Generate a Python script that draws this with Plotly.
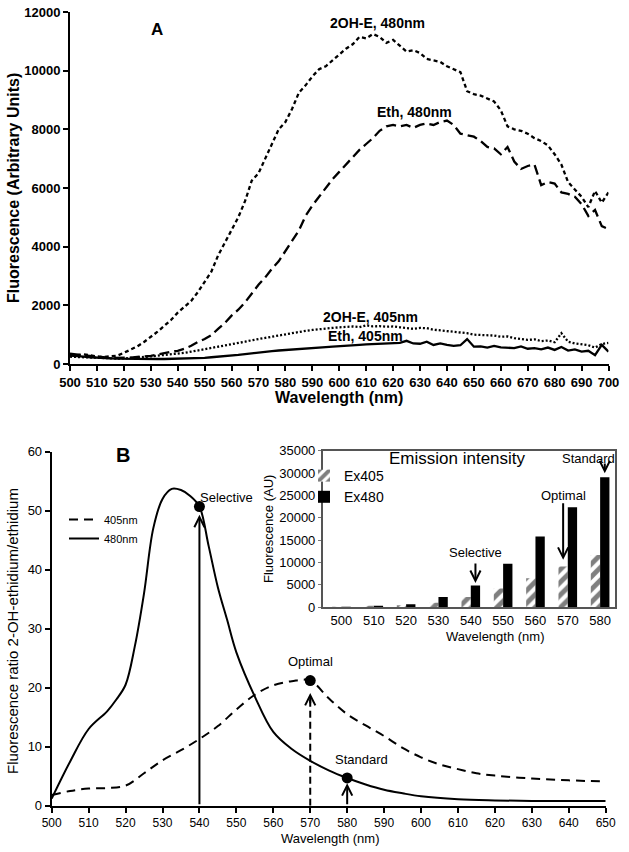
import plotly.graph_objects as go

W, H = 629, 852
FONT = "Liberation Sans, Arial, sans-serif"


def px(x):
    return x / W


def py(y):
    return 1 - y / H


# ---- Panel A: emission spectra (2.5 nm sampling) ----
wl_a = [500 + 2.5 * i for i in range(81)]

oh_480 = [320, 300, 330, 290, 260, 240, 250, 280, 380, 480, 600, 750, 920, 1100, 1300, 1500,
          1750, 1950, 2150, 2450, 2800, 3150, 3700, 4150, 4600, 5000, 5550, 6250, 6500, 7000,
          7550, 8000, 8250, 8700, 9250, 9500, 9800, 10050, 10150, 10350, 10550, 10750, 10900,
          11150, 11100, 11250, 11150, 10950, 11050, 10850, 10650, 10700, 10600, 10400, 10350,
          10300, 10150, 10050, 9950, 9300, 9200, 9150, 9050, 8950, 8650, 8100, 8000, 7950, 7850,
          7700, 7600, 7450, 7150, 6800, 6200, 5950, 5700, 5350, 5900, 5500, 5850]

eth_480 = [350, 330, 310, 280, 260, 230, 200, 200, 210, 220, 240, 250, 280, 320, 380, 420, 450,
           520, 620, 750, 850, 980, 1200, 1400, 1650, 1850, 2100, 2400, 2700, 2950, 3250, 3500,
           3850, 4200, 4550, 5050, 5400, 5700, 6000, 6300, 6550, 6800, 7050, 7300, 7500, 7700,
           7950, 8100, 8150, 8100, 8150, 8050, 8150, 8200, 8150, 8250, 8300, 8150, 7850, 7800,
           7750, 7600, 7400, 7350, 7150, 7400, 6900, 6650, 6750, 6800, 6100, 6200, 6150, 5850,
           5800, 5700, 5450, 5050, 5250, 4700, 4600]

oh_405 = [250, 240, 230, 210, 200, 190, 180, 185, 190, 200, 220, 240, 260, 280, 300, 320, 350,
          380, 420, 460, 500, 540, 580, 620, 660, 710, 760, 810, 850, 900, 950, 990, 1030, 1060,
          1100, 1130, 1160, 1190, 1210, 1230, 1250, 1260, 1280, 1260, 1320, 1280, 1290, 1270,
          1280, 1250, 1230, 1200, 1230, 1220, 1170, 1150, 1120, 1100, 1070, 1050, 1000, 990, 960,
          970, 930, 940, 880, 860, 820, 840, 780, 800, 740, 1050, 760, 700, 660, 640, 560, 680, 720]

eth_405 = [290, 260, 250, 230, 210, 200, 190, 180, 175, 170, 170, 165, 165, 170, 170, 175, 180,
           185, 190, 200, 210, 230, 245, 265, 285, 310, 340, 370, 400, 420, 440, 460, 480, 500,
           510, 530, 545, 560, 575, 590, 600, 620, 640, 650, 670, 680, 690, 700, 710, 720, 790,
           700, 690, 760, 650, 700, 650, 620, 640, 850, 590, 600, 560, 620, 570, 560, 540, 600,
           520, 540, 500, 560, 480, 580, 460, 500, 420, 450, 300, 650, 420]

# ---- Panel B: fluorescence ratio ----
wl_b480 = [500, 505, 510, 515, 517.5, 520, 522.5, 525, 527.5, 530, 532.5, 535, 537.5, 540, 542.5,
           545, 547.5, 550, 555, 560, 565, 570, 575, 580, 585, 590, 595, 600, 610, 620, 630, 640, 650]
ratio_480 = [1.2, 7.5, 13, 16, 18, 20.5, 27, 36, 47, 52, 53.7, 53.5, 52.5, 50.7, 44,
             37, 31.5, 26, 18.5, 12.5, 9.6, 7.6, 6.0, 4.7, 3.6, 2.7, 2.1, 1.6, 1.1, 0.9, 0.8, 0.8, 0.8]

wl_b405 = [500, 505, 510, 515, 520, 525, 530, 535, 540, 545, 550, 555, 560, 565, 570, 575, 580,
           585, 590, 595, 600, 605, 610, 615, 620, 630, 640, 650]
ratio_405 = [1.8, 2.5, 2.9, 3.0, 3.4, 5.5, 7.7, 9.4, 11.3, 13.5, 16.3, 18.8, 20.4, 21.1, 21.2,
             18.2, 15.5, 13.6, 11.8, 9.8, 8.2, 7.0, 6.2, 5.5, 5.1, 4.6, 4.3, 4.1]

pick_names = ["Selective", "Optimal", "Standard"]
pick_wl = [540, 570, 580]
pick_ratio = [50.7, 21.2, 4.7]
arrow_tip = [49.3, 19.1, 3.8]

# ---- Inset: emission intensity bars ----
bar_wl = [500, 510, 520, 530, 540, 550, 560, 570, 580]
ex405 = [50, 200, 450, 1030, 2300, 4200, 6500, 9100, 11700]
ex480 = [80, 200, 700, 2300, 4850, 9750, 15850, 22350, 29050]

fig = go.Figure()

# panel A lines
fig.add_trace(go.Scatter(x=wl_a, y=oh_480, xaxis="x", yaxis="y", mode="lines", showlegend=False,
                         line=dict(color="black", width=2.3, dash="4px,3px")))
fig.add_trace(go.Scatter(x=wl_a, y=eth_480, xaxis="x", yaxis="y", mode="lines", showlegend=False,
                         line=dict(color="black", width=2.3, dash="10px,5px")))
fig.add_trace(go.Scatter(x=wl_a, y=oh_405, xaxis="x", yaxis="y", mode="lines", showlegend=False,
                         line=dict(color="black", width=2.3, dash="2px,2px")))
fig.add_trace(go.Scatter(x=wl_a, y=eth_405, xaxis="x", yaxis="y", mode="lines", showlegend=False,
                         line=dict(color="black", width=2.3)))

# panel B lines
fig.add_trace(go.Scatter(x=wl_b405, y=ratio_405, xaxis="x2", yaxis="y2", mode="lines", name="405nm",
                         legend="legend", line=dict(color="black", width=2, dash="9px,6px", shape="spline")))
fig.add_trace(go.Scatter(x=wl_b480, y=ratio_480, xaxis="x2", yaxis="y2", mode="lines", name="480nm",
                         legend="legend", line=dict(color="black", width=2, shape="spline")))
# dashed shaft of the "Optimal" arrow
fig.add_trace(go.Scatter(x=[pick_wl[1], pick_wl[1]], y=[0, arrow_tip[1] - 1], xaxis="x2", yaxis="y2",
                         mode="lines", showlegend=False, line=dict(color="black", width=2, dash="7px,4px")))
fig.add_trace(go.Scatter(x=pick_wl, y=pick_ratio, xaxis="x2", yaxis="y2", mode="markers", showlegend=False,
                         marker=dict(color="black", size=11)))

# inset bars
fig.add_trace(go.Bar(x=bar_wl, y=ex405, xaxis="x3", yaxis="y3", name="Ex405", legend="legend2",
                     marker=dict(color="white", line=dict(width=0),
                                 pattern=dict(shape="/", fgcolor="black", bgcolor="white", size=9, solidity=0.55))))
fig.add_trace(go.Bar(x=bar_wl, y=ex480, xaxis="x3", yaxis="y3", name="Ex480", legend="legend2",
                     marker=dict(color="black", line=dict(width=0))))

ann = []
# panel A texts
ann.append(dict(text="<b>A</b>", x=px(157), y=py(30), font=dict(size=17)))
ann.append(dict(text="<b>Fluorescence (Arbitrary Units)</b>", x=px(14), y=py(188), textangle=-90,
                font=dict(size=16)))
ann.append(dict(text="<b>Wavelength (nm)</b>", x=px(339), y=py(397), font=dict(size=16)))
ann.append(dict(text="<b>2OH-E, 480nm</b>", x=px(377), y=py(23), font=dict(size=14)))
ann.append(dict(text="<b>Eth, 480nm</b>", x=px(415), y=py(112), font=dict(size=14)))
ann.append(dict(text="<b>2OH-E, 405nm</b>", x=px(370), y=py(317), font=dict(size=14)))
ann.append(dict(text="<b>Eth, 405nm</b>", x=px(365), y=py(336), font=dict(size=14)))

# panel B texts
ann.append(dict(text="<b>B</b>", x=px(123), y=py(455), font=dict(size=20)))
ann.append(dict(text="Fluorescence ratio 2-OH-ethidium/ethidium", x=px(12), y=py(631), textangle=-90,
                font=dict(size=15)))
ann.append(dict(text="Wavelength (nm)", x=px(330), y=py(838), font=dict(size=13)))
label_dx = [7.4, 0, 3.8]
label_dy = [1.6, 3.3, 3.1]
for name, xw, yr, tip, dx, dy in zip(pick_names, pick_wl, pick_ratio, arrow_tip, label_dx, label_dy):
    ann.append(dict(text=name, x=xw + dx, y=yr + dy, xref="x2", yref="y2", font=dict(size=13)))
    if name == "Optimal":
        ann.append(dict(text="", x=xw, y=tip, ax=xw, ay=tip - 2, xref="x2", yref="y2", axref="x2", ayref="y2",
                        showarrow=True, arrowhead=5, arrowwidth=2, arrowsize=1, arrowcolor="black"))
    else:
        ann.append(dict(text="", x=xw, y=tip, ax=xw, ay=0, xref="x2", yref="y2", axref="x2", ayref="y2",
                        showarrow=True, arrowhead=5, arrowwidth=2, arrowsize=1, arrowcolor="black"))

# inset texts
ann.append(dict(text="Emission intensity", x=px(457), y=py(459), font=dict(size=17)))
ann.append(dict(text="Fluorescence (AU)", x=px(268), y=py(529), textangle=-90, font=dict(size=13)))
ann.append(dict(text="Wavelength (nm)", x=px(495), y=py(636), font=dict(size=13)))
dx = 1.44
inset_marks = [("Selective", 540 + dx, ex480[4], 600, 5300, 7300, 0),
               ("Optimal", 570 - dx, ex405[7], 1500, 14500, 15800, 0),
               ("Standard", 580 + dx, ex480[8], 900, 3400, 4300, -5)]
for name, xw, top, tip_off, tail_off, lab_off, lab_dx in inset_marks:
    ann.append(dict(text=name, x=xw + lab_dx, y=top + lab_off, xref="x3", yref="y3", font=dict(size=13)))
    ann.append(dict(text="", x=xw, y=top + tip_off, ax=xw, ay=top + tail_off, xref="x3", yref="y3",
                    axref="x3", ayref="y3", showarrow=True, arrowhead=5, arrowwidth=2, arrowsize=1,
                    arrowcolor="black"))

for a in ann:
    a.setdefault("xref", "paper")
    a.setdefault("yref", "paper")
    a.setdefault("showarrow", False)
    a.setdefault("xanchor", "center")
    a.setdefault("yanchor", "middle")
    a["font"] = dict(family=FONT, color="black", **a.get("font", {}))

axis_a = dict(showgrid=False, zeroline=False, showline=True, linecolor="black", linewidth=2,
              ticks="outside", ticklen=5, tickwidth=2, tickcolor="black", automargin=False,
              tickformat="d", tickfont=dict(family=FONT, size=13, color="black", weight="bold"))
axis_b = dict(showgrid=False, zeroline=False, showline=True, linecolor="black", linewidth=2,
              ticks="outside", ticklen=5, tickwidth=2, tickcolor="black", automargin=False,
              tickformat="d", tickfont=dict(family=FONT, size=13, color="black"))

fig.update_layout(
    width=W, height=H, margin=dict(l=0, r=0, t=0, b=0, autoexpand=False),
    paper_bgcolor="white", plot_bgcolor="white",
    font=dict(family=FONT, color="black"),
    xaxis=dict(axis_a, domain=[px(70), px(608.5)], range=[500, 700], tick0=500, dtick=10, anchor="y"),
    yaxis=dict(axis_a, domain=[py(364), py(12)], range=[0, 12000], dtick=2000, anchor="x"),
    xaxis2=dict(axis_b, domain=[px(51.7), px(605.7)], range=[500, 650], tick0=500, dtick=10, anchor="y2",
                tickfont=dict(family=FONT, size=12, color="black")),
    yaxis2=dict(axis_b, domain=[py(805.7), py(451.7)], range=[0, 60], dtick=10, anchor="x2"),
    xaxis3=dict(showgrid=False, zeroline=False, showline=True, mirror=True, linecolor="#555555", linewidth=1.5,
                domain=[px(322.7), px(615)], range=[494.2, 584.6], tickvals=bar_wl, ticks="", anchor="y3",
                automargin=False, tickfont=dict(family=FONT, size=13, color="black")),
    yaxis3=dict(showgrid=False, zeroline=False, showline=True, mirror=True, linecolor="#555555", linewidth=1.5,
                domain=[py(607.3), py(450.7)], range=[0, 35000], dtick=5000, anchor="x3", tickformat="d",
                ticks="outside", ticklen=3, tickcolor="#777777", automargin=False,
                tickfont=dict(family=FONT, size=13, color="black")),
    barmode="group", bargap=0.424, bargroupgap=0,
    legend=dict(x=px(64), y=py(505), xanchor="left", yanchor="top", bgcolor="rgba(0,0,0,0)",
                font=dict(family=FONT, size=11, color="black"), tracegroupgap=0, itemwidth=30),
    legend2=dict(x=px(304), y=py(460), xanchor="left", yanchor="top", bgcolor="rgba(0,0,0,0)",
                 font=dict(family=FONT, size=14, color="black"), tracegroupgap=0, itemwidth=30),
    annotations=ann,
)

fig.write_html("out.html", config={"displayModeBar": False},
               post_script="document.body.style.margin='0';")
